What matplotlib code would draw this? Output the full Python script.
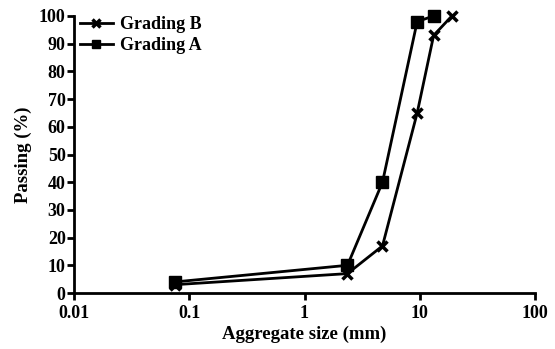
import matplotlib
matplotlib.use("Agg")
import matplotlib.pyplot as plt
from matplotlib.ticker import FixedLocator, NullLocator

# sieve sizes (mm) and passing (%)
size_a = [0.075, 2.36, 4.75, 9.5, 13.2]
pass_a = [4, 10, 40, 98, 100]
size_b = [0.075, 2.36, 4.75, 9.5, 13.2, 19]
pass_b = [3, 7, 17, 65, 93, 100]

x_ticks = [0.01, 0.1, 1, 10, 100]
x_labels = ["0.01", "0.1", "1", "10", "100"]
y_ticks = list(range(0, 101, 10))

plt.rcParams['font.family'] = ['Liberation Serif', 'DejaVu Serif']
plt.rcParams['font.weight'] = 'bold'

fig = plt.figure(figsize=(5.55, 3.49), dpi=100)
ax = fig.add_axes([74 / 555, 1 - 293 / 349, (535 - 74) / 555, (293 - 16) / 349])

ax.plot(size_b, pass_b, color='black', lw=2, marker='x', ms=7, mew=2.5,
        label='Grading B', clip_on=False)
ax.plot(size_a, pass_a, color='black', lw=2, marker='s', ms=9,
        label='Grading A', clip_on=False)

ax.set_xscale('log')
ax.set_xlim(0.01, 100)
ax.set_ylim(0, 100)
ax.xaxis.set_major_locator(FixedLocator(x_ticks))
ax.xaxis.set_minor_locator(NullLocator())
ax.set_xticklabels(x_labels)
ax.set_yticks(y_ticks)

for s in ['top', 'right']:
    ax.spines[s].set_visible(False)
for s in ['left', 'bottom']:
    ax.spines[s].set_linewidth(2)
ax.tick_params(width=2, length=5, labelsize=13)
ax.tick_params(axis='x', pad=4)
ax.tick_params(axis='y', pad=1)
for lab in ax.get_xticklabels() + ax.get_yticklabels():
    lab.set_fontweight('bold')

ax.set_xlabel('Aggregate size (mm)', fontsize=13.5, fontweight='bold', labelpad=2)
ax.set_ylabel('Passing (%)', fontsize=13.5, fontweight='bold', labelpad=5)

leg = ax.legend(loc='upper left', bbox_to_anchor=(80 / 555, 1 - 16 / 349),
                bbox_transform=fig.transFigure, frameon=False,
                fontsize=13, handlelength=1.8, handletextpad=0.4,
                labelspacing=0.22, borderpad=0, borderaxespad=0)
for t in leg.get_texts():
    t.set_fontweight('bold')
for h in leg.legend_handles:
    h.set_markersize(6)

fig.savefig('out.png', dpi=100)
